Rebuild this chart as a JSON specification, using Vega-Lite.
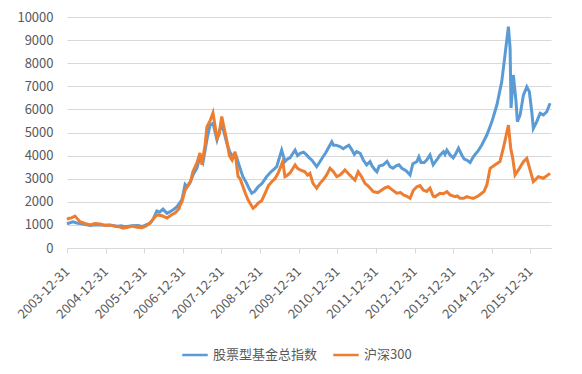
{
  "$schema": "https://vega.github.io/schema/vega-lite/v6.json",
  "width": 484,
  "height": 231,
  "autosize": {"type": "none"},
  "padding": {"left": 67, "top": 17, "right": 31, "bottom": 126},
  "background": "white",
  "config": {"view": {"stroke": null}, "font": "Noto Sans CJK SC"},
  "data": {"values": [
    {"date":"2003-12-31","series":"股票型基金总指数","value":1050},
    {"date":"2004-02-26","series":"股票型基金总指数","value":1130},
    {"date":"2004-04-01","series":"股票型基金总指数","value":1080},
    {"date":"2004-05-02","series":"股票型基金总指数","value":1060},
    {"date":"2004-08-05","series":"股票型基金总指数","value":980},
    {"date":"2004-10-01","series":"股票型基金总指数","value":1010},
    {"date":"2004-11-08","series":"股票型基金总指数","value":1000},
    {"date":"2005-02-11","series":"股票型基金总指数","value":990},
    {"date":"2005-04-26","series":"股票型基金总指数","value":940},
    {"date":"2005-05-25","series":"股票型基金总指数","value":960},
    {"date":"2005-07-01","series":"股票型基金总指数","value":920},
    {"date":"2005-09-07","series":"股票型基金总指数","value":960},
    {"date":"2005-11-01","series":"股票型基金总指数","value":970},
    {"date":"2005-12-10","series":"股票型基金总指数","value":930},
    {"date":"2006-02-24","series":"股票型基金总指数","value":1080},
    {"date":"2006-03-25","series":"股票型基金总指数","value":1250},
    {"date":"2006-04-29","series":"股票型基金总指数","value":1600},
    {"date":"2006-05-25","series":"股票型基金总指数","value":1550},
    {"date":"2006-06-26","series":"股票型基金总指数","value":1680},
    {"date":"2006-08-03","series":"股票型基金总指数","value":1500},
    {"date":"2006-09-20","series":"股票型基金总指数","value":1620},
    {"date":"2006-11-06","series":"股票型基金总指数","value":1790},
    {"date":"2006-12-23","series":"股票型基金总指数","value":2100},
    {"date":"2007-01-21","series":"股票型基金总指数","value":2750},
    {"date":"2007-02-10","series":"股票型基金总指数","value":2650},
    {"date":"2007-03-07","series":"股票型基金总指数","value":2800},
    {"date":"2007-04-10","series":"股票型基金总指数","value":3200},
    {"date":"2007-05-13","series":"股票型基金总指数","value":3460},
    {"date":"2007-06-11","series":"股票型基金总指数","value":3950},
    {"date":"2007-07-09","series":"股票型基金总指数","value":3700},
    {"date":"2007-08-16","series":"股票型基金总指数","value":4700},
    {"date":"2007-09-14","series":"股票型基金总指数","value":5320},
    {"date":"2007-10-12","series":"股票型基金总指数","value":5400},
    {"date":"2007-11-19","series":"股票型基金总指数","value":4680},
    {"date":"2008-01-03","series":"股票型基金总指数","value":5400},
    {"date":"2008-02-22","series":"股票型基金总指数","value":4500},
    {"date":"2008-03-20","series":"股票型基金总指数","value":4150},
    {"date":"2008-04-19","series":"股票型基金总指数","value":3950},
    {"date":"2008-05-17","series":"股票型基金总指数","value":4000},
    {"date":"2008-06-24","series":"股票型基金总指数","value":3450},
    {"date":"2008-07-20","series":"股票型基金总指数","value":3100},
    {"date":"2008-08-26","series":"股票型基金总指数","value":2800},
    {"date":"2008-09-20","series":"股票型基金总指数","value":2550},
    {"date":"2008-10-13","series":"股票型基金总指数","value":2370},
    {"date":"2008-11-10","series":"股票型基金总指数","value":2450},
    {"date":"2008-12-12","series":"股票型基金总指数","value":2650},
    {"date":"2009-01-19","series":"股票型基金总指数","value":2800},
    {"date":"2009-02-10","series":"股票型基金总指数","value":2950},
    {"date":"2009-03-03","series":"股票型基金总指数","value":3090},
    {"date":"2009-04-13","series":"股票型基金总指数","value":3300},
    {"date":"2009-05-10","series":"股票型基金总指数","value":3400},
    {"date":"2009-06-06","series":"股票型基金总指数","value":3520},
    {"date":"2009-07-23","series":"股票型基金总指数","value":4240},
    {"date":"2009-08-23","series":"股票型基金总指数","value":3740},
    {"date":"2009-09-15","series":"股票型基金总指数","value":3850},
    {"date":"2009-10-10","series":"股票型基金总指数","value":3900},
    {"date":"2009-11-27","series":"股票型基金总指数","value":4240},
    {"date":"2009-12-20","series":"股票型基金总指数","value":4000},
    {"date":"2010-01-14","series":"股票型基金总指数","value":4100},
    {"date":"2010-02-15","series":"股票型基金总指数","value":4150},
    {"date":"2010-03-16","series":"股票型基金总指数","value":4030},
    {"date":"2010-04-10","series":"股票型基金总指数","value":3900},
    {"date":"2010-05-05","series":"股票型基金总指数","value":3800},
    {"date":"2010-06-19","series":"股票型基金总指数","value":3520},
    {"date":"2010-07-15","series":"股票型基金总指数","value":3700},
    {"date":"2010-08-18","series":"股票型基金总指数","value":3950},
    {"date":"2010-09-10","series":"股票型基金总指数","value":4100},
    {"date":"2010-10-04","series":"股票型基金总指数","value":4300},
    {"date":"2010-11-09","series":"股票型基金总指数","value":4600},
    {"date":"2010-11-25","series":"股票型基金总指数","value":4450},
    {"date":"2010-12-19","series":"股票型基金总指数","value":4450},
    {"date":"2011-01-26","series":"股票型基金总指数","value":4390},
    {"date":"2011-02-25","series":"股票型基金总指数","value":4300},
    {"date":"2011-03-29","series":"股票型基金总指数","value":4390},
    {"date":"2011-04-20","series":"股票型基金总指数","value":4450},
    {"date":"2011-05-18","series":"股票型基金总指数","value":4250},
    {"date":"2011-06-10","series":"股票型基金总指数","value":4050},
    {"date":"2011-07-02","series":"股票型基金总指数","value":4170},
    {"date":"2011-08-05","series":"股票型基金总指数","value":4100},
    {"date":"2011-09-03","series":"股票型基金总指数","value":3810},
    {"date":"2011-10-05","series":"股票型基金总指数","value":3600},
    {"date":"2011-11-06","series":"股票型基金总指数","value":3740},
    {"date":"2011-11-25","series":"股票型基金总指数","value":3550},
    {"date":"2011-12-23","series":"股票型基金总指数","value":3380},
    {"date":"2012-01-10","series":"股票型基金总指数","value":3300},
    {"date":"2012-02-01","series":"股票型基金总指数","value":3550},
    {"date":"2012-03-10","series":"股票型基金总指数","value":3600},
    {"date":"2012-04-15","series":"股票型基金总指数","value":3750},
    {"date":"2012-05-13","series":"股票型基金总指数","value":3520},
    {"date":"2012-06-10","series":"股票型基金总指数","value":3450},
    {"date":"2012-07-09","series":"股票型基金总指数","value":3560},
    {"date":"2012-08-05","series":"股票型基金总指数","value":3600},
    {"date":"2012-09-02","series":"股票型基金总指数","value":3450},
    {"date":"2012-10-12","series":"股票型基金总指数","value":3350},
    {"date":"2012-11-19","series":"股票型基金总指数","value":3160},
    {"date":"2012-12-15","series":"股票型基金总指数","value":3650},
    {"date":"2013-01-22","series":"股票型基金总指数","value":3740},
    {"date":"2013-02-10","series":"股票型基金总指数","value":3950},
    {"date":"2013-03-02","series":"股票型基金总指数","value":3700},
    {"date":"2013-04-01","series":"股票型基金总指数","value":3700},
    {"date":"2013-04-25","series":"股票型基金总指数","value":3810},
    {"date":"2013-05-26","series":"股票型基金总指数","value":4030},
    {"date":"2013-06-25","series":"股票型基金总指数","value":3600},
    {"date":"2013-07-29","series":"股票型基金总指数","value":3810},
    {"date":"2013-08-25","series":"股票型基金总指数","value":4000},
    {"date":"2013-09-30","series":"股票型基金总指数","value":4170},
    {"date":"2013-10-15","series":"股票型基金总指数","value":4050},
    {"date":"2013-11-02","series":"股票型基金总指数","value":4240},
    {"date":"2013-12-02","series":"股票型基金总指数","value":4030},
    {"date":"2014-01-01","series":"股票型基金总指数","value":3900},
    {"date":"2014-01-19","series":"股票型基金总指数","value":4030},
    {"date":"2014-02-20","series":"股票型基金总指数","value":4320},
    {"date":"2014-03-25","series":"股票型基金总指数","value":4000},
    {"date":"2014-04-15","series":"股票型基金总指数","value":3850},
    {"date":"2014-05-09","series":"股票型基金总指数","value":3810},
    {"date":"2014-06-10","series":"股票型基金总指数","value":3700},
    {"date":"2014-07-10","series":"股票型基金总指数","value":3950},
    {"date":"2014-08-05","series":"股票型基金总指数","value":4100},
    {"date":"2014-08-24","series":"股票型基金总指数","value":4200},
    {"date":"2014-09-28","series":"股票型基金总指数","value":4460},
    {"date":"2014-11-15","series":"股票型基金总指数","value":4890},
    {"date":"2015-01-02","series":"股票型基金总指数","value":5470},
    {"date":"2015-02-18","series":"股票型基金总指数","value":6190},
    {"date":"2015-04-05","series":"股票型基金总指数","value":7200},
    {"date":"2015-05-06","series":"股票型基金总指数","value":8360},
    {"date":"2015-06-07","series":"股票型基金总指数","value":9580},
    {"date":"2015-06-23","series":"股票型基金总指数","value":8650},
    {"date":"2015-07-02","series":"股票型基金总指数","value":6060},
    {"date":"2015-07-24","series":"股票型基金总指数","value":7490},
    {"date":"2015-08-18","series":"股票型基金总指数","value":6340},
    {"date":"2015-08-31","series":"股票型基金总指数","value":5470},
    {"date":"2015-09-26","series":"股票型基金总指数","value":5760},
    {"date":"2015-10-27","series":"股票型基金总指数","value":6620},
    {"date":"2015-11-28","series":"股票型基金总指数","value":6980},
    {"date":"2015-12-22","series":"股票型基金总指数","value":6770},
    {"date":"2016-01-14","series":"股票型基金总指数","value":5900},
    {"date":"2016-01-29","series":"股票型基金总指数","value":5180},
    {"date":"2016-03-01","series":"股票型基金总指数","value":5470},
    {"date":"2016-04-02","series":"股票型基金总指数","value":5830},
    {"date":"2016-05-03","series":"股票型基金总指数","value":5760},
    {"date":"2016-06-04","series":"股票型基金总指数","value":5900},
    {"date":"2016-07-05","series":"股票型基金总指数","value":6270},
    {"date":"2003-12-31","series":"沪深300","value":1240},
    {"date":"2004-01-20","series":"沪深300","value":1290},
    {"date":"2004-02-08","series":"沪深300","value":1300},
    {"date":"2004-03-15","series":"沪深300","value":1385},
    {"date":"2004-04-10","series":"沪深300","value":1250},
    {"date":"2004-05-02","series":"沪深300","value":1140},
    {"date":"2004-06-18","series":"沪深300","value":1060},
    {"date":"2004-08-05","series":"沪深300","value":1000},
    {"date":"2004-09-21","series":"沪深300","value":1060},
    {"date":"2004-11-08","series":"沪深300","value":1040},
    {"date":"2004-12-25","series":"沪深300","value":980},
    {"date":"2005-02-11","series":"沪深300","value":1000},
    {"date":"2005-03-10","series":"沪深300","value":960},
    {"date":"2005-04-07","series":"沪深300","value":930},
    {"date":"2005-05-10","series":"沪深300","value":920},
    {"date":"2005-06-12","series":"沪深300","value":860},
    {"date":"2005-07-29","series":"沪深300","value":900},
    {"date":"2005-09-07","series":"沪深300","value":950},
    {"date":"2005-10-23","series":"沪深300","value":900},
    {"date":"2005-12-10","series":"沪深300","value":880},
    {"date":"2006-01-17","series":"沪深300","value":950},
    {"date":"2006-02-24","series":"沪深300","value":1080},
    {"date":"2006-03-25","series":"沪深300","value":1250},
    {"date":"2006-04-29","series":"沪深300","value":1430},
    {"date":"2006-06-16","series":"沪深300","value":1400},
    {"date":"2006-07-10","series":"沪深300","value":1350},
    {"date":"2006-08-03","series":"沪深300","value":1300},
    {"date":"2006-09-20","series":"沪深300","value":1450},
    {"date":"2006-10-18","series":"沪深300","value":1510},
    {"date":"2006-11-25","series":"沪深300","value":1700},
    {"date":"2006-12-05","series":"沪深300","value":1850},
    {"date":"2006-12-23","series":"沪深300","value":2000},
    {"date":"2007-01-21","series":"沪深300","value":2500},
    {"date":"2007-02-19","series":"沪深300","value":2730},
    {"date":"2007-03-15","series":"沪深300","value":2900},
    {"date":"2007-04-05","series":"沪深300","value":3300},
    {"date":"2007-05-13","series":"沪深300","value":3680},
    {"date":"2007-06-11","series":"沪深300","value":4110},
    {"date":"2007-06-30","series":"沪深300","value":3600},
    {"date":"2007-07-12","series":"沪深300","value":4000},
    {"date":"2007-07-28","series":"沪深300","value":4400},
    {"date":"2007-08-16","series":"沪深300","value":5250},
    {"date":"2007-09-14","series":"沪深300","value":5500},
    {"date":"2007-10-12","series":"沪深300","value":5850},
    {"date":"2007-11-19","series":"沪深300","value":4760},
    {"date":"2007-12-08","series":"沪深300","value":4900},
    {"date":"2008-01-03","series":"沪深300","value":5690},
    {"date":"2008-01-25","series":"沪深300","value":5200},
    {"date":"2008-02-22","series":"沪深300","value":4600},
    {"date":"2008-03-15","series":"沪深300","value":4000},
    {"date":"2008-04-10","series":"沪深300","value":3810},
    {"date":"2008-05-08","series":"沪深300","value":4170},
    {"date":"2008-05-25","series":"沪深300","value":3500},
    {"date":"2008-06-06","series":"沪深300","value":3090},
    {"date":"2008-06-25","series":"沪深300","value":3000},
    {"date":"2008-07-22","series":"沪深300","value":2650},
    {"date":"2008-08-15","series":"沪深300","value":2350},
    {"date":"2008-09-08","series":"沪深300","value":2080},
    {"date":"2008-10-25","series":"沪深300","value":1720},
    {"date":"2008-11-15","series":"沪深300","value":1800},
    {"date":"2008-12-12","series":"沪深300","value":1940},
    {"date":"2009-01-15","series":"沪深300","value":2050},
    {"date":"2009-02-17","series":"沪深300","value":2380},
    {"date":"2009-03-20","series":"沪深300","value":2700},
    {"date":"2009-04-20","series":"沪深300","value":2870},
    {"date":"2009-05-20","series":"沪深300","value":3000},
    {"date":"2009-06-19","series":"沪深300","value":3230},
    {"date":"2009-08-02","series":"沪深300","value":3740},
    {"date":"2009-08-23","series":"沪深300","value":3090},
    {"date":"2009-09-15","series":"沪深300","value":3150},
    {"date":"2009-10-10","series":"沪深300","value":3250},
    {"date":"2009-11-27","series":"沪深300","value":3600},
    {"date":"2009-12-20","series":"沪深300","value":3450},
    {"date":"2010-01-14","series":"沪深300","value":3380},
    {"date":"2010-02-28","series":"沪深300","value":3300},
    {"date":"2010-03-25","series":"沪深300","value":3150},
    {"date":"2010-04-16","series":"沪深300","value":3230},
    {"date":"2010-05-15","series":"沪深300","value":2800},
    {"date":"2010-06-19","series":"沪深300","value":2590},
    {"date":"2010-07-20","series":"沪深300","value":2800},
    {"date":"2010-08-18","series":"沪深300","value":2940},
    {"date":"2010-09-20","series":"沪深300","value":3150},
    {"date":"2010-10-23","series":"沪深300","value":3450},
    {"date":"2010-11-25","series":"沪深300","value":3300},
    {"date":"2010-12-26","series":"沪深300","value":3090},
    {"date":"2011-01-26","series":"沪深300","value":3160},
    {"date":"2011-02-15","series":"沪深300","value":3250},
    {"date":"2011-03-13","series":"沪深300","value":3380},
    {"date":"2011-04-30","series":"沪深300","value":3150},
    {"date":"2011-05-20","series":"沪深300","value":3050},
    {"date":"2011-06-16","series":"沪深300","value":2940},
    {"date":"2011-07-17","series":"沪深300","value":3300},
    {"date":"2011-08-15","series":"沪深300","value":3100},
    {"date":"2011-09-19","series":"沪深300","value":2800},
    {"date":"2011-10-15","series":"沪深300","value":2700},
    {"date":"2011-11-06","series":"沪深300","value":2600},
    {"date":"2011-12-07","series":"沪深300","value":2440},
    {"date":"2012-01-20","series":"沪深300","value":2400},
    {"date":"2012-02-25","series":"沪深300","value":2510},
    {"date":"2012-03-25","series":"沪深300","value":2600},
    {"date":"2012-04-27","series":"沪深300","value":2650},
    {"date":"2012-05-25","series":"沪深300","value":2550},
    {"date":"2012-07-15","series":"沪深300","value":2370},
    {"date":"2012-08-20","series":"沪深300","value":2400},
    {"date":"2012-09-17","series":"沪深300","value":2300},
    {"date":"2012-10-15","series":"沪深300","value":2250},
    {"date":"2012-11-19","series":"沪深300","value":2150},
    {"date":"2012-12-20","series":"沪深300","value":2500},
    {"date":"2013-01-22","series":"沪深300","value":2650},
    {"date":"2013-02-20","series":"沪深300","value":2700},
    {"date":"2013-03-23","series":"沪深300","value":2510},
    {"date":"2013-04-25","series":"沪深300","value":2450},
    {"date":"2013-05-26","series":"沪深300","value":2590},
    {"date":"2013-06-25","series":"沪深300","value":2250},
    {"date":"2013-07-12","series":"沪深300","value":2220},
    {"date":"2013-08-29","series":"沪深300","value":2370},
    {"date":"2013-10-01","series":"沪深300","value":2350},
    {"date":"2013-11-02","series":"沪深300","value":2440},
    {"date":"2013-12-02","series":"沪深300","value":2300},
    {"date":"2014-01-19","series":"沪深300","value":2220},
    {"date":"2014-02-10","series":"沪深300","value":2250},
    {"date":"2014-03-06","series":"沪深300","value":2150},
    {"date":"2014-04-10","series":"沪深300","value":2150},
    {"date":"2014-05-09","series":"沪深300","value":2220},
    {"date":"2014-06-10","series":"沪深300","value":2180},
    {"date":"2014-07-10","series":"沪深300","value":2150},
    {"date":"2014-08-25","series":"沪深300","value":2250},
    {"date":"2014-09-28","series":"沪深300","value":2370},
    {"date":"2014-10-20","series":"沪深300","value":2450},
    {"date":"2014-11-15","series":"沪深300","value":2730},
    {"date":"2014-12-16","series":"沪深300","value":3450},
    {"date":"2015-02-02","series":"沪深300","value":3600},
    {"date":"2015-03-19","series":"沪深300","value":3740},
    {"date":"2015-04-20","series":"沪深300","value":4320},
    {"date":"2015-06-07","series":"沪深300","value":5320},
    {"date":"2015-06-29","series":"沪深300","value":4320},
    {"date":"2015-07-18","series":"沪深300","value":3880},
    {"date":"2015-08-09","series":"沪深300","value":3160},
    {"date":"2015-09-10","series":"沪深300","value":3380},
    {"date":"2015-10-27","series":"沪深300","value":3740},
    {"date":"2015-11-28","series":"沪深300","value":3880},
    {"date":"2015-12-29","series":"沪深300","value":3380},
    {"date":"2016-01-29","series":"沪深300","value":2870},
    {"date":"2016-03-16","series":"沪深300","value":3090},
    {"date":"2016-05-03","series":"沪深300","value":3020},
    {"date":"2016-07-05","series":"沪深300","value":3230}
  ]},
  "mark": {"type": "line", "strokeWidth": 3},
  "encoding": {
    "x": {
      "field": "date",
      "type": "temporal",
      "scale": {"type": "utc", "domain": [{"year": 2003, "month": 12, "date": 31, "utc": true}, {"year": 2016, "month": 7, "date": 14, "utc": true}]},
      "axis": {
        "title": null,
        "values": [
          {"year": 2003, "month": 12, "date": 31, "utc": true},
          {"year": 2004, "month": 12, "date": 31, "utc": true},
          {"year": 2005, "month": 12, "date": 31, "utc": true},
          {"year": 2006, "month": 12, "date": 31, "utc": true},
          {"year": 2007, "month": 12, "date": 31, "utc": true},
          {"year": 2008, "month": 12, "date": 31, "utc": true},
          {"year": 2009, "month": 12, "date": 31, "utc": true},
          {"year": 2010, "month": 12, "date": 31, "utc": true},
          {"year": 2011, "month": 12, "date": 31, "utc": true},
          {"year": 2012, "month": 12, "date": 31, "utc": true},
          {"year": 2013, "month": 12, "date": 31, "utc": true},
          {"year": 2014, "month": 12, "date": 31, "utc": true},
          {"year": 2015, "month": 12, "date": 31, "utc": true}
        ],
        "format": "%Y-%m-%d",
        "labelAngle": -45,
        "labelAlign": "right",
        "labelBaseline": "middle",
        "labelFontSize": 13,
        "labelColor": "#595959",
        "labelPadding": 16,
        "labelOverlap": false,
        "labelFlush": false,
        "grid": false,
        "domainColor": "#d9d9d9",
        "tickColor": "#d9d9d9",
        "tickSize": 5
      }
    },
    "y": {
      "field": "value",
      "type": "quantitative",
      "scale": {"domain": [0, 10000], "nice": false},
      "axis": {
        "title": null,
        "values": [0, 1000, 2000, 3000, 4000, 5000, 6000, 7000, 8000, 9000, 10000],
        "format": "d",
        "domain": false,
        "ticks": false,
        "gridColor": "#d9d9d9",
        "labelColor": "#595959",
        "labelFontSize": 13,
        "labelPadding": 14
      }
    },
    "color": {
      "field": "series",
      "type": "nominal",
      "scale": {"domain": ["股票型基金总指数", "沪深300"], "range": ["#5B9BD5", "#ED7D31"]},
      "legend": {
        "title": null,
        "orient": "none",
        "legendX": 114,
        "legendY": 324,
        "direction": "horizontal",
        "symbolType": "stroke",
        "symbolStrokeWidth": 2.5,
        "symbolSize": 650,
        "labelFontSize": 13,
        "labelColor": "#595959",
        "columnPadding": 10,
        "labelOffset": 4,
        "padding": 0
      }
    }
  }
}
